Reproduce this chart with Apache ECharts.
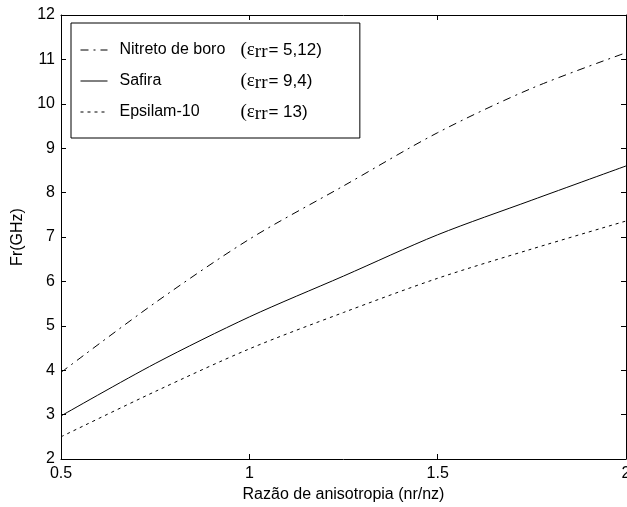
<!DOCTYPE html>
<html>
<head>
<meta charset="utf-8">
<script src="https://cdn.jsdelivr.net/npm/echarts@6/dist/echarts.min.js"></script>
<style>
  html, body { margin: 0; padding: 0; background: #fff; }
  #chart { width: 627px; height: 507px; }
</style>
</head>
<body>
<div id="chart"></div>
<script>
    // dados
    var razao = [0.5, 0.75, 1.0, 1.25, 1.5, 1.75, 2.0];
    var nitreto = [3.95, 5.52, 6.95, 8.15, 9.35, 10.35, 11.15];
    var safira = [2.97, 4.15, 5.2, 6.12, 7.05, 7.83, 8.6];
    var epsilam = [2.5, 3.52, 4.48, 5.3, 6.07, 6.73, 7.36];
    var nomes = ['Nitreto de boro', 'Safira', 'Epsilam-10'];
    var epsilon = ['5,12', '9,4', '13'];

    function pares(ys) {
        return razao.map(function (x, i) { return [x, ys[i]]; });
    }

    var fonte = 'Liberation Sans, Arial, sans-serif';
    var myChart = echarts.init(document.getElementById('chart'));

    var eixoX = {
        type: 'value', min: 0.5, max: 2, interval: 0.5,
        axisLine: { show: true, lineStyle: { color: '#000', width: 1 } },
        axisTick: { show: true, inside: true, length: 5, lineStyle: { color: '#000' } },
        splitLine: { show: false }
    };
    var eixoY = {
        type: 'value', min: 2, max: 12, interval: 1,
        axisLine: { show: true, lineStyle: { color: '#000', width: 1 } },
        axisTick: { show: true, inside: true, length: 5, lineStyle: { color: '#000' } },
        splitLine: { show: false }
    };

    var option = {
        backgroundColor: '#fff',
        animation: false,
        grid: { left: 61, right: 1, top: 15, bottom: 48, outerBoundsMode: 'none', containLabel: false },
        legend: {
            orient: 'vertical',
            left: 71, top: 23,
            padding: [13, 38, 14, 9],
            itemGap: 5,
            itemWidth: 27,
            itemHeight: 14,
            borderColor: '#000',
            borderWidth: 1,
            backgroundColor: '#fff',
            itemStyle: { color: 'rgba(0,0,0,0)', borderWidth: 0, opacity: 0 },
            lineStyle: { width: 1 },
            data: nomes,
            formatter: function (name) {
                var i = nomes.indexOf(name);
                return '{n|' + name + '}{e|(ε}{s|rr}{v|= ' + epsilon[i] + ')}';
            },
            textStyle: {
                color: '#000',
                rich: {
                    n: { fontFamily: fonte, fontSize: 16, width: 121, padding: [0, 0, 0, 7], lineHeight: 24, verticalAlign: 'middle', color: '#000' },
                    e: { fontFamily: 'Liberation Serif, serif', fontSize: 19, lineHeight: 24, verticalAlign: 'middle', color: '#000' },
                    s: { fontFamily: 'Liberation Serif, serif', fontSize: 19, lineHeight: 24, verticalAlign: 'bottom', padding: [7, 1, 0, 0], color: '#000' },
                    v: { fontFamily: fonte, fontSize: 17, lineHeight: 24, verticalAlign: 'middle', color: '#000' }
                }
            }
        },
        xAxis: [
            Object.assign({}, eixoX, {
                position: 'bottom',
                name: 'Razão de anisotropia (nr/nz)',
                nameLocation: 'middle',
                nameGap: 28,
                nameTextStyle: { fontFamily: fonte, fontSize: 16, color: '#000' },
                axisLabel: { fontFamily: fonte, fontSize: 16, color: '#000', margin: 7 }
            }),
            Object.assign({}, eixoX, { position: 'top', axisLabel: { show: false } })
        ],
        yAxis: [
            Object.assign({}, eixoY, {
                position: 'left',
                name: 'Fr(GHz)',
                nameLocation: 'middle',
                nameGap: 35,
                nameTextStyle: { fontFamily: fonte, fontSize: 16, color: '#000' },
                axisLabel: { fontFamily: fonte, fontSize: 16, color: '#000', margin: 6 }
            }),
            Object.assign({}, eixoY, { position: 'right', axisLabel: { show: false } })
        ],
        series: [
            {
                name: nomes[0], type: 'line', smooth: 0.3, symbol: 'none',
                data: pares(nitreto),
                itemStyle: { color: '#000' },
                lineStyle: { color: '#000', width: 1, type: [8, 5, 2, 5] }
            },
            {
                name: nomes[1], type: 'line', smooth: 0.3, symbol: 'none',
                data: pares(safira),
                itemStyle: { color: '#000' },
                lineStyle: { color: '#000', width: 1, type: 'solid' }
            },
            {
                name: nomes[2], type: 'line', smooth: 0.3, symbol: 'none',
                data: pares(epsilam),
                itemStyle: { color: '#000' },
                lineStyle: { color: '#000', width: 1, type: [3, 4] }
            }
        ]
    };

    myChart.setOption(option);
</script>
</body>
</html>
